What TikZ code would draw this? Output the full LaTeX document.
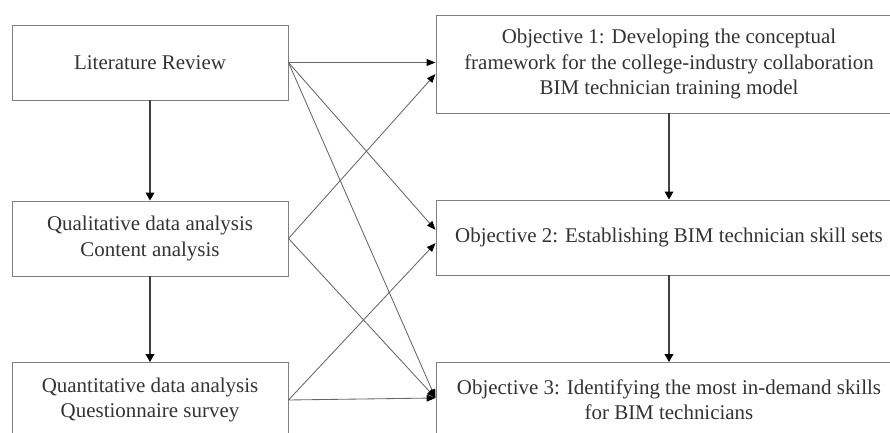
\documentclass[tikz,border=0pt]{standalone}
\usepackage{fontspec}
\setmainfont{Liberation Serif}
\usetikzlibrary{arrows.meta}

\tikzset{
	stage/.style={draw=black!50, line width=0.7pt, fill=white, align=center, text=black!80, minimum height=1.875cm, inner sep=0pt},
	method/.style={stage, minimum width=6.9cm},
	goal/.style={stage, minimum width=11.65cm},
	link/.style={draw=black!60, line width=0.6pt, -{Triangle[length=0.22cm, width=0.17cm, color=black]}},
	flow/.style={draw=black!75, line width=0.8pt, -{Triangle[length=0.2cm, width=0.22cm, color=black]}}
}

\begin{document}
\begin{tikzpicture}[font=\fontsize{14.9}{18}\selectfont]
	\useasboundingbox (0,0) rectangle (22.25,10.825);

	% Methods
	\node[method] (lit)   at (3.75,9.2625) {Literature Review};
	\node[method] (qual)  at (3.75,4.8625) {Qualitative data analysis\\Content analysis};
	\node[method] (quant) at (3.75,0.825)  {Quantitative data analysis\\Questionnaire survey};

	% Objectives
	\node[goal, minimum height=2.45cm] (obj1) at (16.725,9.225) {Objective 1: Developing the conceptual\\framework for the college-industry collaboration\\BIM technician training model};
	\node[goal] (obj2) at (16.725,4.8875) {Objective 2: Establishing BIM technician skill sets};
	\node[goal] (obj3) at (16.725,0.825)  {Objective 3: Identifying the most in-demand skills\\for BIM technicians};

	% Sequence
	\draw[flow] (lit) -- (qual);
	\draw[flow] (qual) -- (quant);
	\draw[flow] (obj1) -- (obj2);
	\draw[flow] (obj2) -- (obj3);

	% Links
	\draw[link] (lit.east) -- (obj1.west |- lit.east);
	\draw[link] (lit.east) -- ([yshift=0.19cm]obj2.west);
	\draw[link] (lit.east) -- ([yshift=0.05cm]obj3.west);
	\draw[link] (qual.east) -- ([yshift=-0.25cm]obj1.west);
	\draw[link] (qual.east) -- ([yshift=0.05cm]obj3.west);
	\draw[link] (quant.east) -- ([yshift=-0.14cm]obj2.west);
	\draw[link] (quant.east) -- ([yshift=0.05cm]obj3.west);
\end{tikzpicture}
\end{document}
